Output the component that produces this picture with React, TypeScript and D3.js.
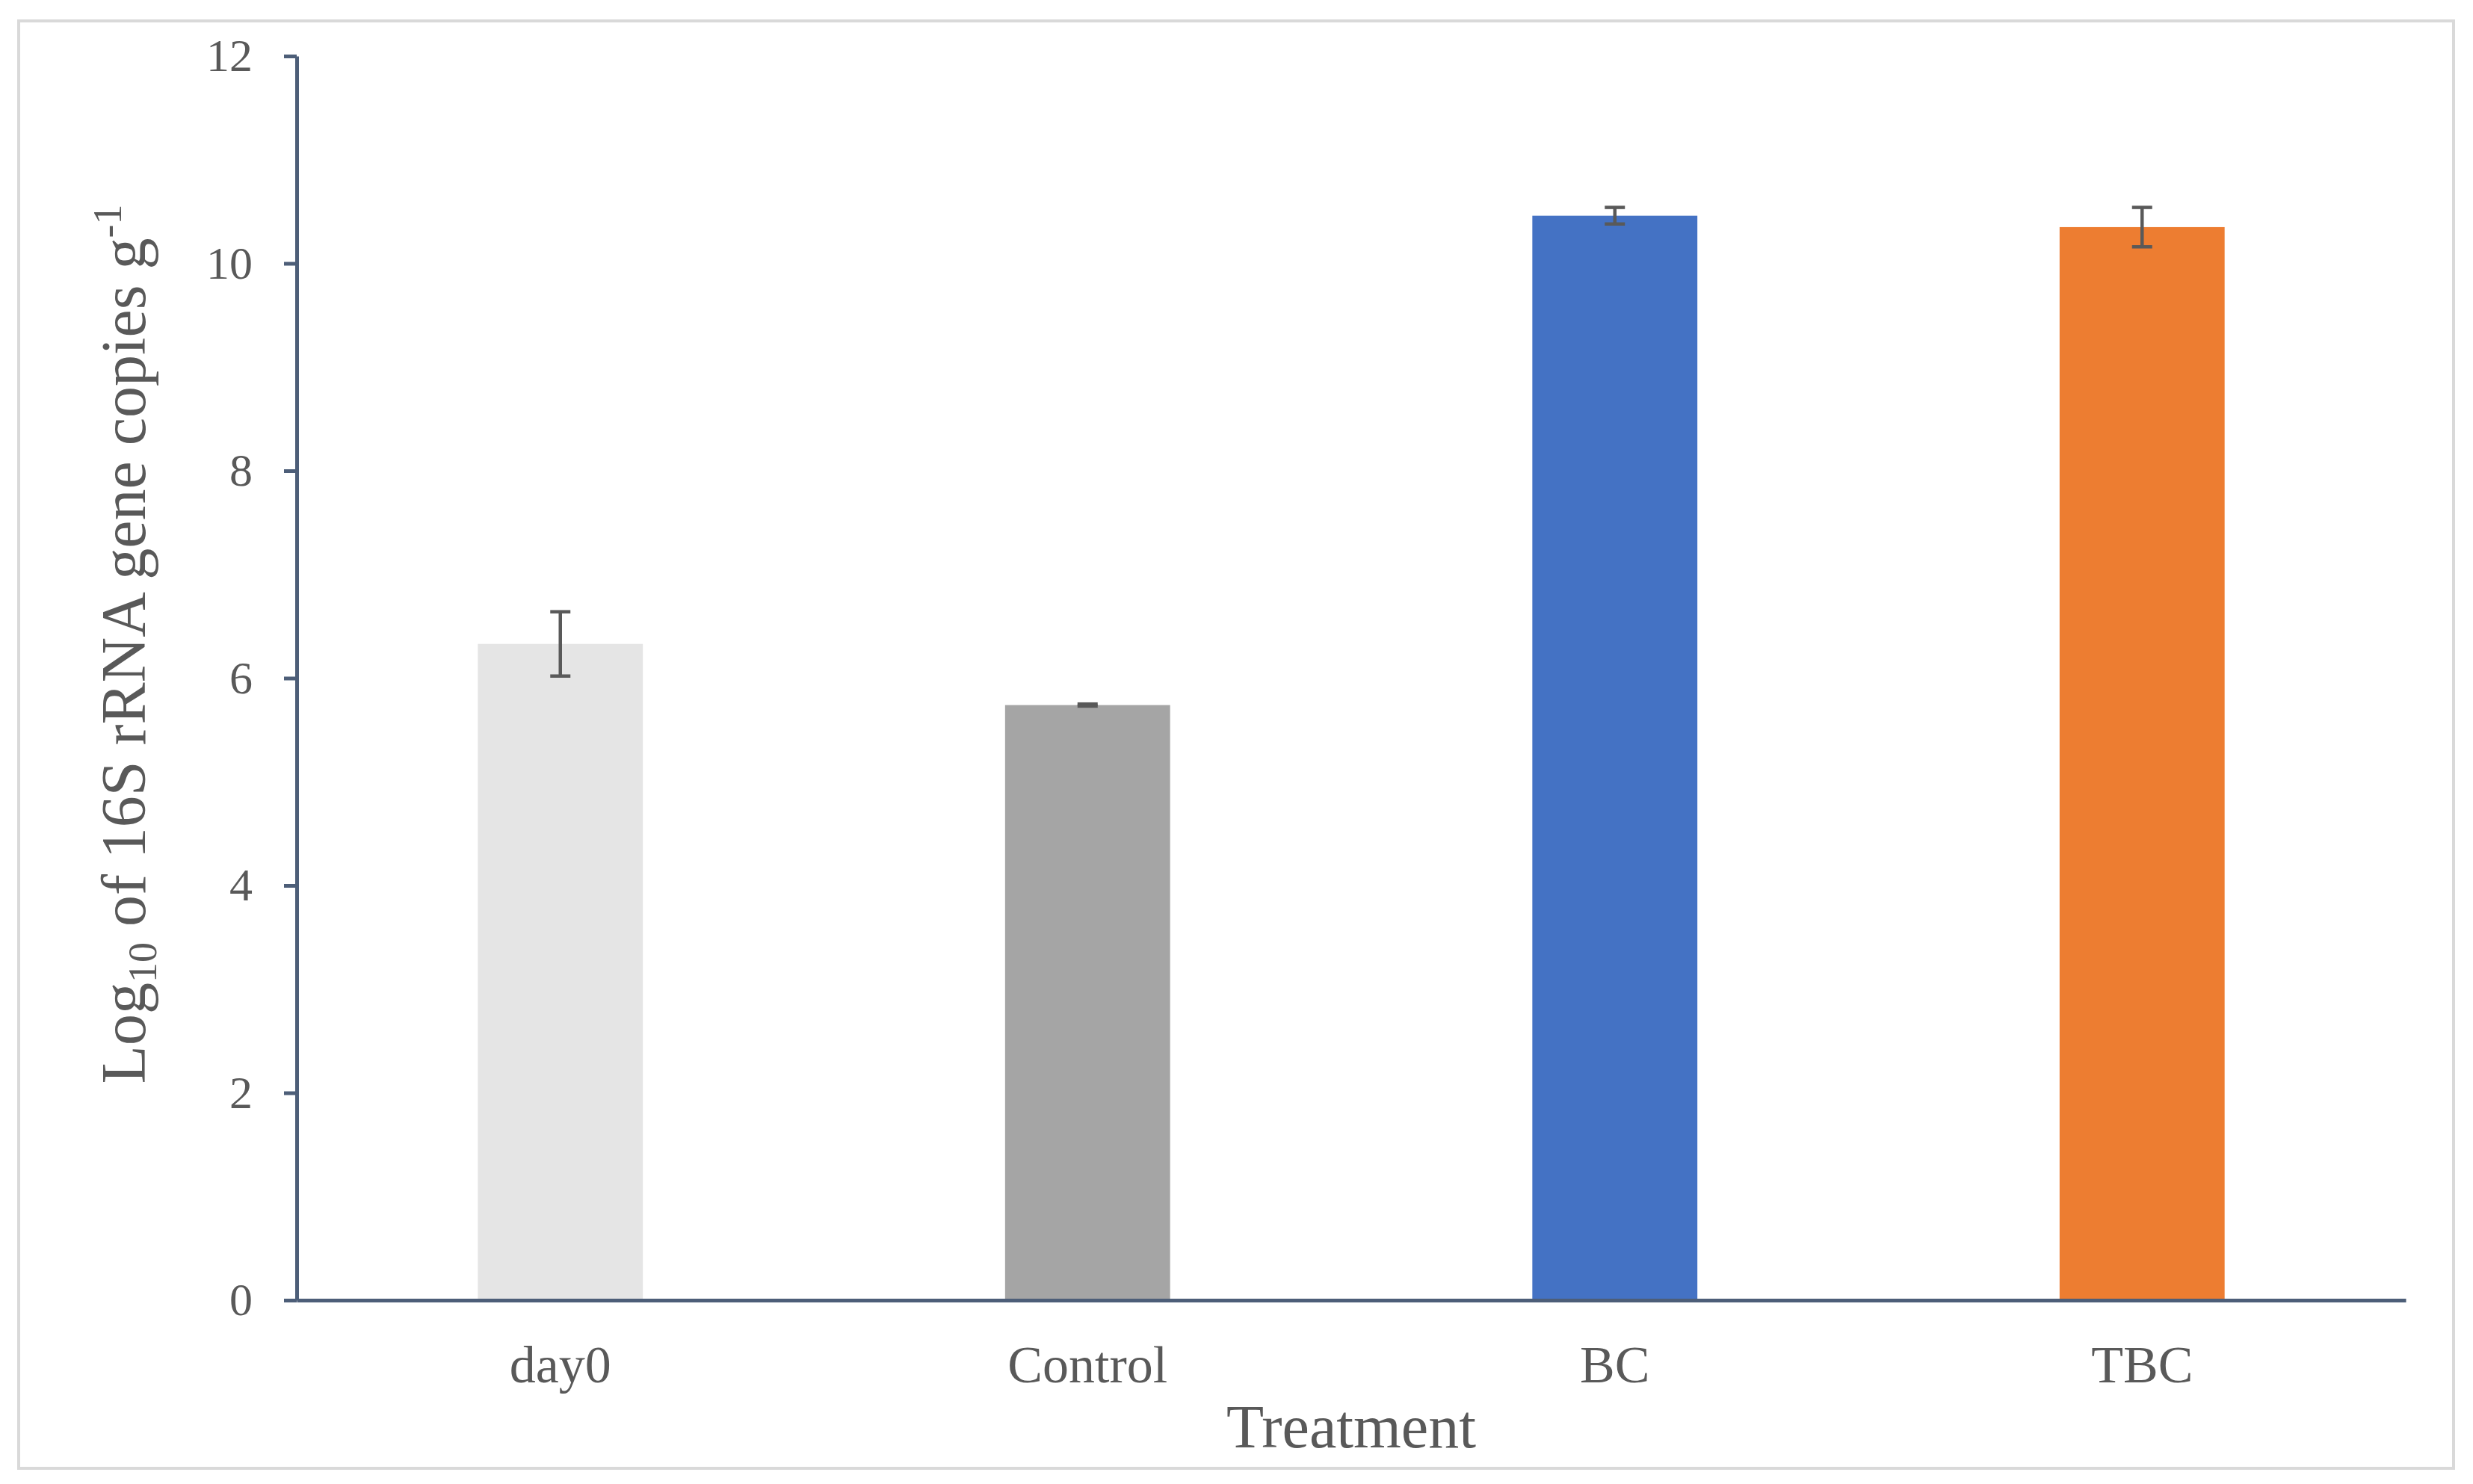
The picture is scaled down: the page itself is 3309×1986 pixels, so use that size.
import React, { useRef, useEffect } from 'react';
import * as d3 from 'd3';

const categories = ['day0', 'Control', 'BC', 'TBC'];
const means = [6.33, 5.74, 10.46, 10.35];
const errors = [0.31, 0.01, 0.08, 0.19];
const barColors = ['#e5e5e5', '#a5a5a5', '#4472c4', '#ed7d31'];
const yTicks = [0, 2, 4, 6, 8, 10, 12];

const App: React.FC = () => {
  const chartRef = useRef<HTMLDivElement>(null);

  useEffect(() => {
    d3.select(chartRef.current).select('svg').remove();

    const width = 3309;
    const height = 1986;
    const plot = { left: 397, right: 3219, top: 75, bottom: 1740 };
    const font = '"Liberation Serif", "Times New Roman", serif';
    const textColor = '#595959';
    const axisColor = '#4d5e78';

    const svg = d3.select(chartRef.current)
      .append('svg')
      .attr('width', width)
      .attr('height', height)
      .style('position', 'absolute')
      .style('left', '0px')
      .style('top', '0px')
      .style('background', '#ffffff');

    // chart frame
    svg.append('rect')
      .attr('x', 25)
      .attr('y', 28)
      .attr('width', 3283 - 25)
      .attr('height', 1965 - 28)
      .attr('fill', '#ffffff')
      .attr('stroke', '#d9d9d9')
      .attr('stroke-width', 4);

    const x = d3.scaleBand()
      .domain(categories)
      .range([plot.left, plot.right])
      .paddingInner(0.687)
      .paddingOuter(0.3435);

    const y = d3.scaleLinear()
      .domain([0, 12])
      .range([plot.bottom, plot.top]);

    // bars
    svg.selectAll('.bar')
      .data(categories)
      .enter().append('rect')
      .attr('class', 'bar')
      .attr('x', d => x(d)!)
      .attr('y', (d, i) => y(means[i]))
      .attr('width', x.bandwidth())
      .attr('height', (d, i) => y(0) - y(means[i]))
      .attr('fill', (d, i) => barColors[i]);

    // error bars
    const err = svg.selectAll('.err')
      .data(categories)
      .enter().append('g')
      .attr('class', 'err')
      .attr('stroke', '#595959')
      .attr('stroke-width', 4.5);

    const cx = (d: string) => x(d)! + x.bandwidth() / 2;
    const capHalf = 13.5;

    err.append('line')
      .attr('x1', cx).attr('x2', cx)
      .attr('y1', (d, i) => y(means[i] + errors[i]))
      .attr('y2', (d, i) => y(means[i] - errors[i]));
    err.append('line')
      .attr('x1', d => cx(d) - capHalf).attr('x2', d => cx(d) + capHalf)
      .attr('y1', (d, i) => y(means[i] + errors[i]))
      .attr('y2', (d, i) => y(means[i] + errors[i]));
    err.append('line')
      .attr('x1', d => cx(d) - capHalf).attr('x2', d => cx(d) + capHalf)
      .attr('y1', (d, i) => y(means[i] - errors[i]))
      .attr('y2', (d, i) => y(means[i] - errors[i]));

    // y axis
    const yAxis = svg.append('g')
      .attr('transform', `translate(${plot.left},0)`)
      .call(d3.axisLeft(y).tickValues(yTicks).tickSize(17).tickPadding(42).tickSizeOuter(0));
    yAxis.select('.domain').attr('stroke', axisColor).attr('stroke-width', 5);
    yAxis.selectAll('.tick line').attr('stroke', axisColor).attr('stroke-width', 5);
    yAxis.selectAll('.tick text')
      .attr('fill', textColor)
      .style('font-family', font)
      .style('font-size', '62px');

    // x axis
    const xAxis = svg.append('g')
      .attr('transform', `translate(0,${plot.bottom})`)
      .call(d3.axisBottom(x).tickSize(0).tickPadding(60).tickSizeOuter(0));
    xAxis.select('.domain').attr('stroke', axisColor).attr('stroke-width', 5);
    xAxis.selectAll('.tick text')
      .attr('fill', textColor)
      .style('font-family', font)
      .style('font-size', '70px');

    // x title
    svg.append('text')
      .attr('x', (plot.left + plot.right) / 2)
      .attr('y', 1937)
      .attr('text-anchor', 'middle')
      .attr('fill', textColor)
      .style('font-family', font)
      .style('font-size', '82px')
      .text('Treatment');

    // y title
    const yTitle = svg.append('text')
      .attr('transform', 'translate(194,862) rotate(-90)')
      .attr('text-anchor', 'middle')
      .attr('fill', textColor)
      .style('font-family', font)
      .style('font-size', '84px');
    yTitle.append('tspan').text('Log');
    yTitle.append('tspan').attr('dy', 15).style('font-size', '54px').text('10');
    yTitle.append('tspan').attr('dy', -15).text(' of 16S rRNA gene copies g');
    yTitle.append('tspan').attr('dy', -32).style('font-size', '54px').text('-1');
  }, []);

  return <div ref={chartRef} />;
};

export default App;
